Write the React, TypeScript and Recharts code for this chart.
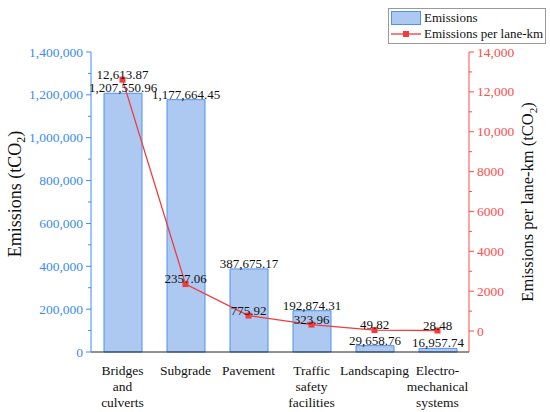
import React from 'react';
import {
  ComposedChart,
  Bar,
  Line,
  XAxis,
  YAxis,
  Legend,
  LabelList,
} from 'recharts';

const categories = [
  'Bridges\nand\nculverts',
  'Subgrade',
  'Pavement',
  'Traffic\nsafety\nfacilities',
  'Landscaping',
  'Electro-\nmechanical\nsystems',
];
const emissions = [1207550.96, 1177664.45, 387675.17, 192874.31, 29658.76, 16957.74];
const perLaneKm = [12613.87, 2357.06, 775.92, 323.96, 49.82, 28.48];

const leftTicks = [0, 100000, 200000, 300000, 400000, 500000, 600000, 700000, 800000, 900000, 1000000, 1100000, 1200000, 1300000, 1400000];
const rightTicks = [0, 1000, 2000, 3000, 4000, 5000, 6000, 7000, 8000, 9000, 10000, 11000, 12000, 13000, 14000];

const data = categories.map((name, i) => ({
  name,
  emissions: emissions[i],
  perLaneKm: perLaneKm[i],
}));

const FONT = 'Liberation Serif';
const BLUE = '#3d8bf2';
const RED = '#ff4d4d';
const LINE_RED = '#f03c3c';
const BAR_FILL = '#adc9f1';
const BAR_STROKE = '#4f92ee';

const fmt2 = (v: number) =>
  v.toLocaleString('en-US', { minimumFractionDigits: 2, maximumFractionDigits: 2 });
// origin style: no thousands separator below 10,000
const fmtRight = (v: number) => (v >= 10000 ? v.toLocaleString('en-US') : String(v));
const fmtLine = (v: number) => (v >= 10000 ? fmt2(v) : v.toFixed(2));

const LeftTick = (props: any) => {
  const { x, y, payload } = props;
  const major = payload.value % 200000 === 0;
  return (
    <g>
      <line x1={x} x2={x - (major ? 5 : 3)} y1={y} y2={y} stroke={BLUE} strokeWidth={1} />
      {major && (
        <text x={x - 8} y={y} dy={4.5} textAnchor="end" fill={BLUE} fontSize={13.5} style={{ fontFamily: FONT }}>
          {payload.value.toLocaleString('en-US')}
        </text>
      )}
    </g>
  );
};

const RightTick = (props: any) => {
  const { x, y, payload } = props;
  const major = payload.value % 2000 === 0;
  return (
    <g>
      <line x1={x} x2={x + (major ? 5 : 3)} y1={y} y2={y} stroke={RED} strokeWidth={1} />
      {major && (
        <text x={x + 8} y={y} dy={4.5} textAnchor="start" fill={RED} fontSize={13.5} style={{ fontFamily: FONT }}>
          {fmtRight(payload.value)}
        </text>
      )}
    </g>
  );
};

const CategoryTick = (props: any) => {
  const { x, y, payload } = props;
  const lines = String(payload.value).split('\n');
  return (
    <text x={x} y={y + 15} textAnchor="middle" fill="#111" fontSize={13.5} style={{ fontFamily: FONT }}>
      {lines.map((l, i) => (
        <tspan key={i} x={x} dy={i === 0 ? 0 : 16}>
          {l}
        </tspan>
      ))}
    </text>
  );
};

const LeftTitle = (props: any) => {
  const { x, y, height } = props.viewBox;
  const cx = x + 21;
  const cy = y + height / 2 - 8;
  return (
    <text x={cx} y={cy} transform={`rotate(-90, ${cx}, ${cy})`} textAnchor="middle" fill="#111" fontSize={18} style={{ fontFamily: FONT }}>
      <tspan>Emissions (tCO</tspan>
      <tspan fontSize={12} dy={4}>2</tspan>
      <tspan dy={-4}>)</tspan>
    </text>
  );
};

const RightTitle = (props: any) => {
  const { x, y, height } = props.viewBox;
  const cx = x + 64;
  const cy = y + height / 2;
  return (
    <text x={cx} y={cy} transform={`rotate(-90, ${cx}, ${cy})`} textAnchor="middle" fill="#111" fontSize={16.5} style={{ fontFamily: FONT }}>
      <tspan>Emissions per lane-km (tCO</tspan>
      <tspan fontSize={11} dy={4}>2</tspan>
      <tspan dy={-4}>)</tspan>
    </text>
  );
};

const SquareDot = (props: any) => {
  const { cx, cy, index } = props;
  return <rect key={`dot-${index}`} x={cx - 3} y={cy - 3} width={6} height={6} fill={LINE_RED} />;
};

const LegendBox = () => (
  <div
    style={{
      border: '1px solid #9a9a9a',
      background: '#fff',
      padding: '1px 2px 1px 2px',
      fontFamily: FONT,
      fontSize: 13,
      color: '#111',
      lineHeight: '16px',
      whiteSpace: 'nowrap',
    }}
  >
    <div style={{ display: 'flex', alignItems: 'center', height: 16 }}>
      <svg width={31} height={16}>
        <rect x={0.5} y={1.5} width={29} height={13} fill={BAR_FILL} stroke={BAR_STROKE} />
      </svg>
      <span style={{ marginLeft: 2 }}>Emissions</span>
    </div>
    <div style={{ display: 'flex', alignItems: 'center', height: 16 }}>
      <svg width={31} height={16}>
        <line x1={0} x2={30} y1={8} y2={8} stroke={LINE_RED} strokeWidth={1.3} />
        <rect x={12} y={5} width={6} height={6} fill={LINE_RED} />
      </svg>
      <span style={{ marginLeft: 2 }}>Emissions per lane-km</span>
    </div>
  </div>
);

export default function App() {
  return (
    <div style={{ width: 550, height: 412, background: '#fff', position: 'relative', fontFamily: FONT }}>
      <style>{'body{margin:0;}'}</style>
      <ComposedChart
        width={550}
        height={412}
        data={data}
        margin={{ top: 52, right: 0, bottom: 0, left: 0 }}
        style={{ fontFamily: FONT }}
      >
        <XAxis
          dataKey="name"
          interval={0}
          height={60}
          axisLine={{ stroke: '#222', strokeWidth: 1 }}
          tickLine={false}
          tick={<CategoryTick />}
          xAxisId="x"
        />
        <YAxis
          yAxisId="left"
          orientation="left"
          width={91}
          domain={[0, 1400000]}
          ticks={leftTicks}
          interval={0}
          tickSize={0}
          tickMargin={0}
          tickLine={false}
          axisLine={{ stroke: BLUE, strokeWidth: 1 }}
          tick={<LeftTick />}
          label={{ content: (p: any) => <LeftTitle {...p} /> }}
        />
        <YAxis
          yAxisId="right"
          orientation="right"
          width={81}
          domain={[-1050, 14000]}
          ticks={rightTicks}
          interval={0}
          tickSize={0}
          tickMargin={0}
          tickLine={false}
          allowDataOverflow
          axisLine={{ stroke: RED, strokeWidth: 1 }}
          tick={<RightTick />}
          label={{ content: (p: any) => <RightTitle {...p} /> }}
        />
        <Legend
          layout="vertical"
          align="center"
          verticalAlign="middle"
          content={() => <LegendBox />}
          wrapperStyle={{ top: 8, left: 388, width: 'auto', bottom: 'auto', right: 'auto' }}
        />
        <Bar
          xAxisId="x"
          yAxisId="left"
          dataKey="emissions"
          name="Emissions"
          barSize={38}
          fill={BAR_FILL}
          stroke={BAR_STROKE}
          strokeWidth={1}
          isAnimationActive={false}
        >
          <LabelList
            dataKey="emissions"
            position="top"
            offset={1}
            formatter={(v: any) => fmt2(Number(v))}
            style={{ fontSize: 13, fontFamily: FONT, fill: '#111' }}
          />
        </Bar>
        <Line
          xAxisId="x"
          yAxisId="right"
          type="linear"
          dataKey="perLaneKm"
          name="Emissions per lane-km"
          stroke={LINE_RED}
          strokeWidth={1.3}
          dot={<SquareDot />}
          activeDot={false}
          isAnimationActive={false}
        >
          <LabelList
            dataKey="perLaneKm"
            position="top"
            offset={1}
            formatter={(v: any) => fmtLine(Number(v))}
            style={{ fontSize: 13, fontFamily: FONT, fill: '#111' }}
          />
        </Line>
      </ComposedChart>
    </div>
  );
}
